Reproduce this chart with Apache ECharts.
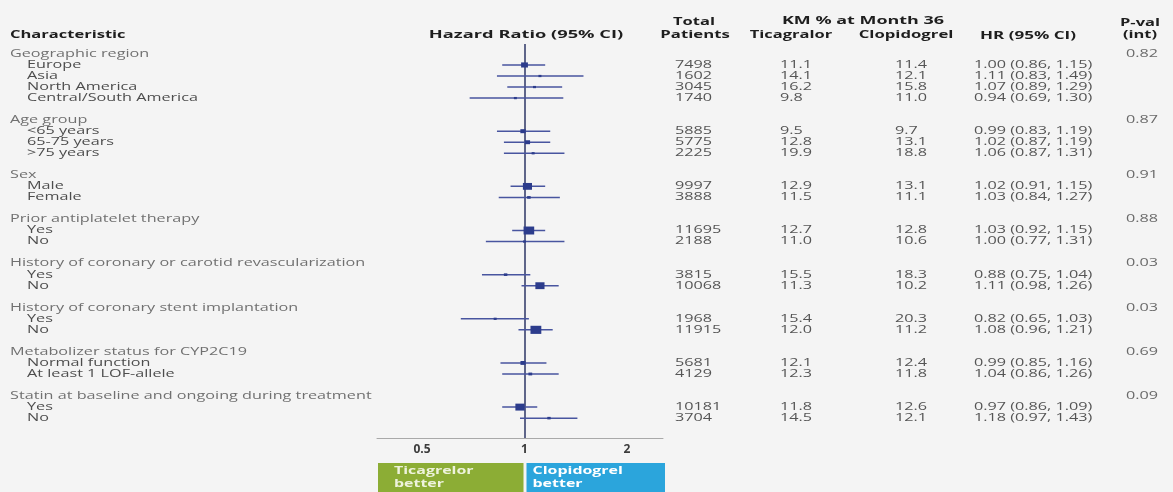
<!DOCTYPE html>
<html><head><meta charset="utf-8">
<script src="https://cdn.jsdelivr.net/npm/echarts@6/dist/echarts.min.js"></script>
<style>html,body{margin:0;padding:0;background:#f4f4f4}#c{width:1173px;height:492px}</style>
</head><body><div id="c"></div>
<script>
// ---------------- data ----------------
const groupNames = ['Geographic region', 'Age group', 'Sex', 'Prior antiplatelet therapy',
  'History of coronary or carotid revascularization', 'History of coronary stent implantation',
  'Metabolizer status for CYP2C19', 'Statin at baseline and ongoing during treatment'];
const groupPvalues = ['0.82', '0.87', '0.91', '0.88', '0.03', '0.03', '0.69', '0.09'];
const subgroupNames = [
  ['Europe', 'Asia', 'North America', 'Central/South America'],
  ['<65 years', '65-75 years', '>75 years'],
  ['Male', 'Female'],
  ['Yes', 'No'],
  ['Yes', 'No'],
  ['Yes', 'No'],
  ['Normal function', 'At least 1 LOF-allele'],
  ['Yes', 'No']
];
const totalPatients = [7498, 1602, 3045, 1740, 5885, 5775, 2225, 9997, 3888, 11695, 2188, 3815, 10068, 1968, 11915, 5681, 4129, 10181, 3704];
const kmTicagrelor = ['11.1', '14.1', '16.2', '9.8', '9.5', '12.8', '19.9', '12.9', '11.5', '12.7', '11.0', '15.5', '11.3', '15.4', '12.0', '12.1', '12.3', '11.8', '14.5'];
const kmClopidogrel = ['11.4', '12.1', '15.8', '11.0', '9.7', '13.1', '18.8', '13.1', '11.1', '12.8', '10.6', '18.3', '10.2', '20.3', '11.2', '12.4', '11.8', '12.6', '12.1'];
const hazardRatio = [1.00, 1.11, 1.07, 0.94, 0.99, 1.02, 1.06, 1.02, 1.03, 1.03, 1.00, 0.88, 1.11, 0.82, 1.08, 0.99, 1.04, 0.97, 1.18];
const ciLower = [0.86, 0.83, 0.89, 0.69, 0.83, 0.87, 0.87, 0.91, 0.84, 0.92, 0.77, 0.75, 0.98, 0.65, 0.96, 0.85, 0.86, 0.86, 0.97];
const ciUpper = [1.15, 1.49, 1.29, 1.30, 1.19, 1.19, 1.31, 1.15, 1.27, 1.15, 1.31, 1.04, 1.26, 1.03, 1.21, 1.16, 1.26, 1.09, 1.43];
const axisTickValues = [0.5, 1, 2];
const axisTickLabels = ['0.5', '1', '2'];
const favourLabels = ['Ticagrelor\nbetter', 'Clopidogrel\nbetter'];

// ---------------- layout / style ----------------
const ROW_MIN = -0.9, ROW_MAX = 34.8;
const PLOT = { left: 377, width: 286, top: 44, height: 394 };
const COL = { group: 10, sub: 27, total: 675, tica: 780, clop: 895, hr: 974, p: 1158 };
const SX = 1.62;
const BODY_FONT = '10px "Open Sans"';
const HEAD_FONT = 'bold 11px "Open Sans"';

// ---------------- build rows ----------------
const textItems = [];
const forestData = [];
let row = 0, k = 0;
groupNames.forEach((g, gi) => {
  textItems.push({ x: COL.group, row, text: g, color: '#707070', align: 'left' });
  textItems.push({ x: COL.p, row, text: groupPvalues[gi], color: '#6a6a6a', align: 'right' });
  row++;
  subgroupNames[gi].forEach(s => {
    textItems.push({ x: COL.sub, row, text: s, color: '#4d4d4d', align: 'left' });
    textItems.push({ x: COL.total, row, text: String(totalPatients[k]), color: '#555', align: 'left' });
    textItems.push({ x: COL.tica, row, text: kmTicagrelor[k], color: '#555', align: 'left' });
    textItems.push({ x: COL.clop, row, text: kmClopidogrel[k], color: '#555', align: 'left' });
    textItems.push({ x: COL.hr, row, text: hazardRatio[k].toFixed(2) + ' (' + ciLower[k].toFixed(2) + ', ' + ciUpper[k].toFixed(2) + ')', color: '#555', align: 'left' });
    forestData.push([hazardRatio[k], ciLower[k], ciUpper[k], row, totalPatients[k]]);
    k++; row++;
  });
  row++;
});

const chart = echarts.init(document.getElementById('c'), null, { renderer: 'canvas' });

function renderForest(params, api) {
  const r = api.value(3);
  const p0 = api.coord([api.value(1), r]);
  const p1 = api.coord([api.value(2), r]);
  const pc = api.coord([api.value(0), r]);
  const w = Math.max(3, api.value(4) / 1100);
  const h = w * 0.75;
  return { type: 'group', children: [
    { type: 'line', shape: { x1: p0[0], y1: p0[1], x2: p1[0], y2: p1[1] }, style: { stroke: '#48559f', lineWidth: 1.5 } },
    { type: 'rect', shape: { x: pc[0] - w / 2, y: pc[1] - h / 2, width: w, height: h }, style: { fill: '#2c3c8c' } }
  ]};
}
function renderText(params, api) {
  const t = textItems[params.dataIndex];
  const p = api.coord([api.value(0), api.value(1)]);
  return { type: 'text', x: p[0], y: p[1], scaleX: SX,
    style: { text: t.text, font: BODY_FONT, fill: t.color, textAlign: t.align, textVerticalAlign: 'middle' } };
}

function headText(text, x, y, align, sx) {
  return { type: 'text', x, y, scaleX: sx || 1.5, silent: true,
    style: { text, font: HEAD_FONT, fill: '#1e1e1e', textAlign: align || 'center', textVerticalAlign: 'middle' } };
}

chart.setOption({
  backgroundColor: '#f4f4f4',
  animation: false,
  grid: [
    { left: PLOT.left, width: PLOT.width, top: PLOT.top, height: PLOT.height },
    { left: 0, right: 0, top: PLOT.top, height: PLOT.height }
  ],
  xAxis: [
    { type: 'log', logBase: 2, gridIndex: 0, min: 0.3688, max: 2.551, position: 'bottom',
      axisLine: { onZero: false, lineStyle: { color: '#a9a9a9', width: 1 } }, axisTick: { show: false }, splitLine: { show: false },
      axisLabel: { color: '#3c3c3c', fontSize: 12, fontWeight: 'bold', fontFamily: 'Open Sans', margin: 6,
        formatter: v => { const i = axisTickValues.findIndex(t => Math.abs(t - v) < 1e-6); return i >= 0 ? axisTickLabels[i] : ''; } } },
    { type: 'value', gridIndex: 1, min: 0, max: 1173, show: false }
  ],
  yAxis: [
    { type: 'value', gridIndex: 0, min: ROW_MIN, max: ROW_MAX, inverse: true, show: false },
    { type: 'value', gridIndex: 1, min: ROW_MIN, max: ROW_MAX, inverse: true, show: false }
  ],
  series: [
    { type: 'custom', xAxisIndex: 0, yAxisIndex: 0, renderItem: renderForest, data: forestData,
      encode: { x: [0, 1, 2], y: 3 }, clip: false, silent: true, z: 3,
      markLine: { silent: true, symbol: 'none', label: { show: false }, z: 2,
        lineStyle: { color: '#39416e', width: 1.6, type: 'solid' }, data: [{ xAxis: 1 }] } },
    { type: 'custom', xAxisIndex: 1, yAxisIndex: 1, renderItem: renderText,
      data: textItems.map(t => [t.x, t.row]), encode: { x: 0, y: 1 }, clip: false, silent: true }
  ]
});

// header and favour boxes tied to the axis
const xLeft = chart.convertToPixel({ xAxisIndex: 0 }, 0.3688);
const xOne = chart.convertToPixel({ xAxisIndex: 0 }, 1);
const xRight = chart.convertToPixel({ xAxisIndex: 0 }, 2.551);
const boxTop = 463;
chart.setOption({
  graphic: [
    headText('Characteristic', 10, 35, 'left', 1.5),
    headText('Hazard Ratio (95% CI)', 526, 35, 'center', 1.66),
    headText('Total', 694, 22, 'center', 1.5),
    headText('Patients', 695, 35, 'center', 1.52),
    headText('KM % at Month 36', 863, 21, 'center', 1.63),
    headText('Ticagralor', 791, 35, 'center', 1.5),
    headText('Clopidogrel', 906, 35, 'center', 1.52),
    headText('HR (95% CI)', 1028, 36, 'center', 1.55),
    headText('P-val', 1140, 23, 'center', 1.5),
    headText('(int)', 1140, 35, 'center', 1.5),
    { type: 'rect', silent: true, shape: { x: xLeft + 1, y: boxTop, width: xOne - xLeft - 2, height: 40 }, style: { fill: '#8cad35' } },
    { type: 'rect', silent: true, shape: { x: xOne + 2, y: boxTop, width: xRight - xOne, height: 40 }, style: { fill: '#2ba5dc' } },
    { type: 'text', x: xLeft + 17, y: boxTop + 14, scaleX: 1.45, silent: true,
      style: { text: favourLabels[0], font: 'bold 11px "Open Sans"', fill: '#eef3dc', lineHeight: 13, textAlign: 'left', textVerticalAlign: 'middle' } },
    { type: 'text', x: xOne + 8, y: boxTop + 14, scaleX: 1.45, silent: true,
      style: { text: favourLabels[1], font: 'bold 11px "Open Sans"', fill: '#ffffff', lineHeight: 13, textAlign: 'left', textVerticalAlign: 'middle' } }
  ]
});
</script>
</body></html>
